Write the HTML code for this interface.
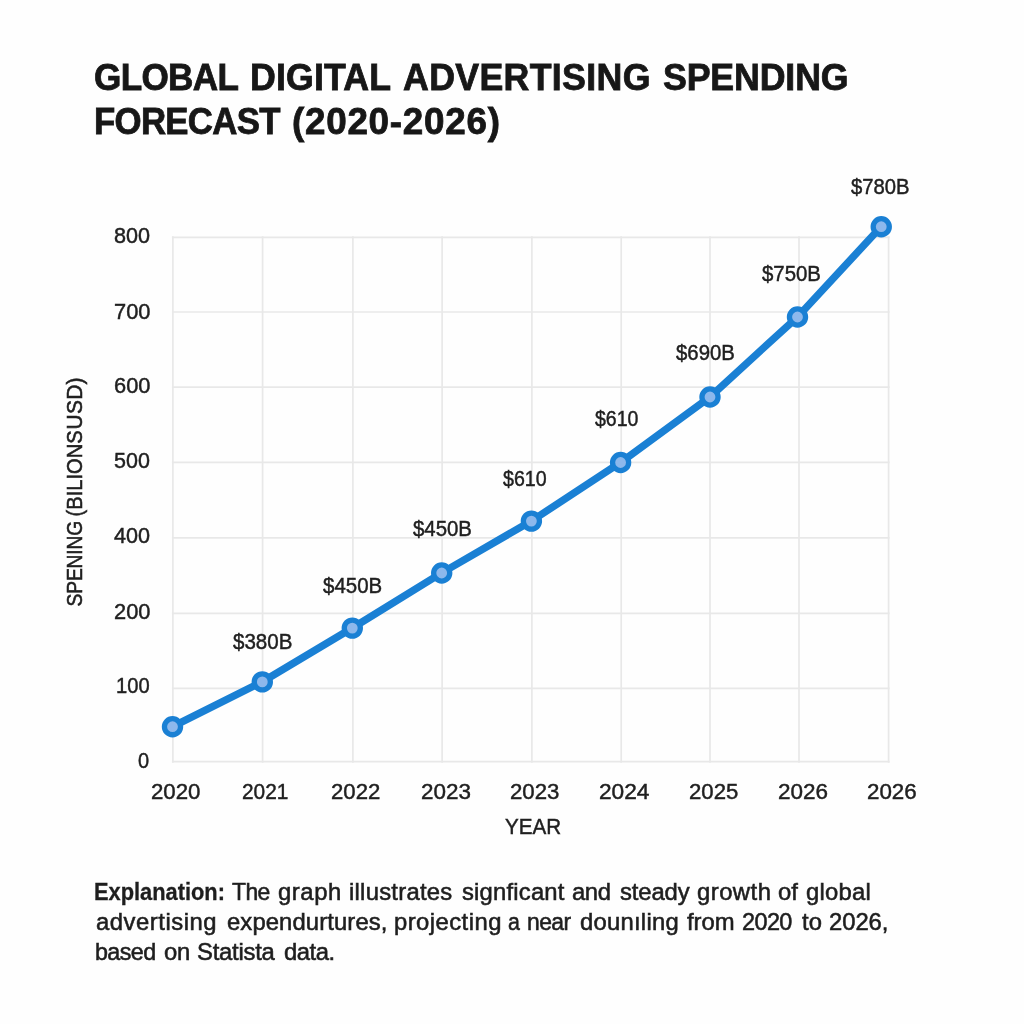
<!DOCTYPE html>
<html lang="en">
<head>
<meta charset="utf-8">
<title>Global Digital Advertising Spending Forecast (2020-2026)</title>
<style>
html,body{margin:0;padding:0;background:#fefefe;}
body{width:1024px;height:1024px;position:relative;overflow:hidden;font-family:"Liberation Sans",Arial,sans-serif;}
.t{position:absolute;white-space:pre;line-height:1;margin:0;padding:0;display:block;}
h1,p,figure,figcaption,div{margin:0;padding:0;font-size:inherit;}
p,figure{font-weight:400;}
svg{position:absolute;left:0;top:0;}
.grid line{stroke:#e8e8e8;stroke-width:1.7;}
.series polyline{fill:none;stroke:#1a80d4;stroke-width:7.4;stroke-linejoin:round;stroke-linecap:round;}
.series circle{fill:#8db8ec;stroke:#1a80d4;stroke-width:5.3;}
</style>
</head>
<body>
<h1>
<span class="t" style="left:93.85px;top:59.08px;font-size:37px;color:#171717;letter-spacing:-0.740px;-webkit-text-stroke:0.8px #171717;transform-origin:0 31.32px;transform:scaleX(0.9503)">GLOBAL</span>
<span class="t" style="left:249.97px;top:59.08px;font-size:37px;color:#171717;letter-spacing:0.141px;-webkit-text-stroke:0.8px #171717;transform-origin:0 31.32px;transform:scaleX(0.9660)">DIGITAL</span>
<span class="t" style="left:402.50px;top:59.08px;font-size:37px;color:#171717;letter-spacing:0.328px;-webkit-text-stroke:0.8px #171717;transform-origin:0 31.32px;transform:scaleX(0.9660)">ADVERTISING</span>
<span class="t" style="left:662.63px;top:59.08px;font-size:37px;color:#171717;letter-spacing:-0.162px;-webkit-text-stroke:0.8px #171717;transform-origin:0 31.32px;transform:scaleX(0.9660)">SPENDING</span>
<span class="t" style="left:93.72px;top:102.88px;font-size:37px;color:#171717;letter-spacing:-0.740px;-webkit-text-stroke:0.8px #171717;transform-origin:0 31.32px;transform:scaleX(0.9404)">FORECAST</span>
<span class="t" style="left:291.81px;top:102.88px;font-size:37px;color:#171717;letter-spacing:0.740px;-webkit-text-stroke:0.8px #171717;transform-origin:0 31.32px;transform:scaleX(0.9949)">(2020-2026)</span>
</h1>
<figure>
<svg width="1024" height="1024" viewBox="0 0 1024 1024">
<g class="grid">
<line x1="172.9" y1="236.3" x2="172.9" y2="762.7"/><line x1="262.6" y1="236.3" x2="262.6" y2="762.7"/><line x1="352.9" y1="236.3" x2="352.9" y2="762.7"/><line x1="442.1" y1="236.3" x2="442.1" y2="762.7"/><line x1="531.9" y1="236.3" x2="531.9" y2="762.7"/><line x1="621.2" y1="236.3" x2="621.2" y2="762.7"/><line x1="710.0" y1="236.3" x2="710.0" y2="762.7"/><line x1="799.0" y1="236.3" x2="799.0" y2="762.7"/><line x1="888.6" y1="236.3" x2="888.6" y2="762.7"/><line x1="171.9" y1="237.3" x2="889.6" y2="237.3"/><line x1="171.9" y1="312.0" x2="889.6" y2="312.0"/><line x1="171.9" y1="387.1" x2="889.6" y2="387.1"/><line x1="171.9" y1="462.4" x2="889.6" y2="462.4"/><line x1="171.9" y1="537.9" x2="889.6" y2="537.9"/><line x1="171.9" y1="613.4" x2="889.6" y2="613.4"/><line x1="171.9" y1="688.4" x2="889.6" y2="688.4"/><line x1="171.9" y1="761.7" x2="889.6" y2="761.7"/>
</g>
<g class="series">
<polyline points="172.5,726.60 262.3,681.80 352.3,628.00 441.7,572.90 531.4,521.00 620.6,462.40 710.0,396.90 797.5,316.90 881.25,226.60"/>
<circle cx="172.5" cy="726.7" r="8.05"/><circle cx="262.3" cy="681.9" r="8.05"/><circle cx="352.3" cy="628.1" r="8.05"/><circle cx="441.7" cy="573.0" r="8.05"/><circle cx="531.4" cy="521.1" r="8.05"/><circle cx="620.6" cy="462.5" r="8.05"/><circle cx="710.0" cy="397.0" r="8.05"/><circle cx="797.5" cy="317.0" r="8.05"/><circle cx="881.25" cy="226.7" r="8.05"/>
</g>
</svg>
<div class="yaxis">
<span class="t" style="left:82.00px;top:588.15px;font-size:21.8px;color:#202020;letter-spacing:-0.218px;-webkit-text-stroke:0.55px #202020;transform-origin:0 18.45px;transform:rotate(-90deg) scaleX(0.8848)">SPENING</span>
<span class="t" style="left:82.00px;top:498.27px;font-size:21.8px;color:#202020;letter-spacing:0.000px;-webkit-text-stroke:0.55px #202020;transform-origin:0 18.45px;transform:rotate(-90deg) scaleX(0.9223)">(BILIONS</span><span class="t" style="left:82.00px;top:410.91px;font-size:21.8px;color:#202020;letter-spacing:0.218px;-webkit-text-stroke:0.55px #202020;transform-origin:0 18.45px;transform:rotate(-90deg) scaleX(0.9657)">USD)</span>
<span class="t" style="left:114.20px;top:225.13px;font-size:22.0px;color:#202020;letter-spacing:0.000px;-webkit-text-stroke:0.45px #202020;transform-origin:0 18.62px;transform:scaleX(0.9816)">800</span>
<span class="t" style="left:113.81px;top:301.13px;font-size:22.0px;color:#202020;letter-spacing:-0.000px;-webkit-text-stroke:0.45px #202020;transform-origin:0 18.62px;transform:scaleX(0.9924)">700</span>
<span class="t" style="left:113.81px;top:375.23px;font-size:22.0px;color:#202020;letter-spacing:-0.000px;-webkit-text-stroke:0.45px #202020;transform-origin:0 18.62px;transform:scaleX(0.9924)">600</span>
<span class="t" style="left:114.40px;top:450.13px;font-size:22.0px;color:#202020;letter-spacing:-0.000px;-webkit-text-stroke:0.45px #202020;transform-origin:0 18.62px;transform:scaleX(0.9761)">500</span>
<span class="t" style="left:114.20px;top:525.03px;font-size:22.0px;color:#202020;letter-spacing:0.000px;-webkit-text-stroke:0.45px #202020;transform-origin:0 18.62px;transform:scaleX(0.9816)">400</span>
<span class="t" style="left:113.81px;top:600.63px;font-size:22.0px;color:#202020;letter-spacing:-0.000px;-webkit-text-stroke:0.45px #202020;transform-origin:0 18.62px;transform:scaleX(0.9924)">200</span>
<span class="t" style="left:115.58px;top:674.93px;font-size:22.0px;color:#202020;letter-spacing:-0.000px;-webkit-text-stroke:0.45px #202020;transform-origin:0 18.62px;transform:scaleX(0.9162)">100</span>
<span class="t" style="left:138.10px;top:749.83px;font-size:22.0px;color:#202020;letter-spacing:0.000px;-webkit-text-stroke:0.45px #202020;transform-origin:0 18.62px;transform:scaleX(0.9083)">0</span>
</div>
<div class="xaxis">
<span class="t" style="left:151.01px;top:781.15px;font-size:22.5px;color:#202020;letter-spacing:0.000px;-webkit-text-stroke:0.45px #202020;transform-origin:0 19.05px;transform:scaleX(0.9889)">2020</span>
<span class="t" style="left:242.07px;top:781.15px;font-size:22.5px;color:#202020;letter-spacing:-0.000px;-webkit-text-stroke:0.45px #202020;transform-origin:0 19.05px;transform:scaleX(0.9271)">2021</span>
<span class="t" style="left:330.92px;top:781.15px;font-size:22.5px;color:#202020;letter-spacing:-0.000px;-webkit-text-stroke:0.45px #202020;transform-origin:0 19.05px;transform:scaleX(0.9847)">2022</span>
<span class="t" style="left:420.90px;top:781.15px;font-size:22.5px;color:#202020;letter-spacing:-0.000px;-webkit-text-stroke:0.45px #202020;transform-origin:0 19.05px;transform:scaleX(0.9971)">2023</span>
<span class="t" style="left:509.91px;top:781.15px;font-size:22.5px;color:#202020;letter-spacing:-0.000px;-webkit-text-stroke:0.45px #202020;transform-origin:0 19.05px;transform:scaleX(0.9868)">2023</span>
<span class="t" style="left:599.39px;top:781.15px;font-size:22.5px;color:#202020;letter-spacing:-0.000px;-webkit-text-stroke:0.45px #202020;transform-origin:0 19.05px;transform:scaleX(1.0074)">2024</span>
<span class="t" style="left:688.72px;top:781.15px;font-size:22.5px;color:#202020;letter-spacing:-0.000px;-webkit-text-stroke:0.45px #202020;transform-origin:0 19.05px;transform:scaleX(0.9847)">2025</span>
<span class="t" style="left:778.40px;top:781.15px;font-size:22.5px;color:#202020;letter-spacing:-0.000px;-webkit-text-stroke:0.45px #202020;transform-origin:0 19.05px;transform:scaleX(0.9992)">2026</span>
<span class="t" style="left:867.31px;top:781.15px;font-size:22.5px;color:#202020;letter-spacing:-0.000px;-webkit-text-stroke:0.45px #202020;transform-origin:0 19.05px;transform:scaleX(0.9930)">2026</span>
<span class="t" style="left:504.70px;top:816.50px;font-size:21.5px;color:#202020;letter-spacing:0.000px;-webkit-text-stroke:0.45px #202020;transform-origin:0 18.20px;transform:scaleX(0.9583)">YEAR</span>
</div>
<div class="datalabels">
<span class="t" style="left:232.60px;top:631.58px;font-size:21.4px;color:#202020;letter-spacing:-0.000px;-webkit-text-stroke:0.45px #202020;transform-origin:0 18.12px;transform:scaleX(0.9596)">$380B</span>
<span class="t" style="left:323.10px;top:575.58px;font-size:21.4px;color:#202020;letter-spacing:-0.000px;-webkit-text-stroke:0.45px #202020;transform-origin:0 18.12px;transform:scaleX(0.9564)">$450B</span>
<span class="t" style="left:413.30px;top:519.08px;font-size:21.4px;color:#202020;letter-spacing:-0.000px;-webkit-text-stroke:0.45px #202020;transform-origin:0 18.12px;transform:scaleX(0.9531)">$450B</span>
<span class="t" style="left:502.70px;top:468.98px;font-size:21.4px;color:#202020;letter-spacing:-0.000px;-webkit-text-stroke:0.45px #202020;transform-origin:0 18.12px;transform:scaleX(0.9163)">$610</span>
<span class="t" style="left:594.50px;top:408.88px;font-size:21.4px;color:#202020;letter-spacing:-0.000px;-webkit-text-stroke:0.45px #202020;transform-origin:0 18.12px;transform:scaleX(0.9122)">$610</span>
<span class="t" style="left:676.40px;top:342.78px;font-size:21.4px;color:#202020;letter-spacing:-0.000px;-webkit-text-stroke:0.45px #202020;transform-origin:0 18.12px;transform:scaleX(0.9515)">$690B</span>
<span class="t" style="left:762.30px;top:263.78px;font-size:21.4px;color:#202020;letter-spacing:-0.000px;-webkit-text-stroke:0.45px #202020;transform-origin:0 18.12px;transform:scaleX(0.9531)">$750B</span>
<span class="t" style="left:851.10px;top:177.18px;font-size:21.4px;color:#202020;letter-spacing:-0.000px;-webkit-text-stroke:0.45px #202020;transform-origin:0 18.12px;transform:scaleX(0.9466)">$780B</span>
</div>
</figure>
<p>
<b class="t" style="left:94.28px;top:880.64px;font-size:23.7px;color:#1e1e1e;letter-spacing:0.000px;-webkit-text-stroke:0.3px #1e1e1e;transform-origin:0 20.06px;transform:scaleX(0.9214)">Explanation:</b>
<span class="t" style="left:232.20px;top:880.64px;font-size:23.7px;color:#1e1e1e;letter-spacing:-0.593px;-webkit-text-stroke:0.55px #1e1e1e;transform-origin:0 20.06px;transform:scaleX(0.9681)">The</span>
<span class="t" style="left:278.29px;top:880.64px;font-size:23.7px;color:#1e1e1e;letter-spacing:0.589px;-webkit-text-stroke:0.55px #1e1e1e;transform-origin:0 20.06px;transform:scaleX(1.0055)">graph</span>
<span class="t" style="left:348.69px;top:880.64px;font-size:23.7px;color:#1e1e1e;letter-spacing:0.264px;-webkit-text-stroke:0.55px #1e1e1e;transform-origin:0 20.06px;transform:scaleX(1.0055)">illustrates</span>
<span class="t" style="left:461.80px;top:880.64px;font-size:23.7px;color:#1e1e1e;letter-spacing:0.194px;-webkit-text-stroke:0.55px #1e1e1e;transform-origin:0 20.06px;transform:scaleX(1.0055)">signficant</span>
<span class="t" style="left:572.19px;top:880.64px;font-size:23.7px;color:#1e1e1e;letter-spacing:-0.424px;-webkit-text-stroke:0.55px #1e1e1e;transform-origin:0 20.06px;transform:scaleX(1.0055)">and</span>
<span class="t" style="left:619.50px;top:880.64px;font-size:23.7px;color:#1e1e1e;letter-spacing:-0.126px;-webkit-text-stroke:0.55px #1e1e1e;transform-origin:0 20.06px;transform:scaleX(1.0055)">steady</span>
<span class="t" style="left:697.19px;top:880.64px;font-size:23.7px;color:#1e1e1e;letter-spacing:0.477px;-webkit-text-stroke:0.55px #1e1e1e;transform-origin:0 20.06px;transform:scaleX(1.0055)">growth</span>
<span class="t" style="left:778.29px;top:880.64px;font-size:23.7px;color:#1e1e1e;letter-spacing:0.120px;-webkit-text-stroke:0.55px #1e1e1e;transform-origin:0 20.06px;transform:scaleX(1.0055)">of</span>
<span class="t" style="left:806.19px;top:880.64px;font-size:23.7px;color:#1e1e1e;letter-spacing:0.220px;-webkit-text-stroke:0.55px #1e1e1e;transform-origin:0 20.06px;transform:scaleX(1.0055)">global</span>
<span class="t" style="left:95.99px;top:911.24px;font-size:23.7px;color:#1e1e1e;letter-spacing:0.537px;-webkit-text-stroke:0.55px #1e1e1e;transform-origin:0 20.06px;transform:scaleX(1.0055)">advertising</span>
<span class="t" style="left:226.99px;top:911.24px;font-size:23.7px;color:#1e1e1e;letter-spacing:0.115px;-webkit-text-stroke:0.55px #1e1e1e;transform-origin:0 20.06px;transform:scaleX(1.0055)">expendurtures,</span>
<span class="t" style="left:393.59px;top:911.24px;font-size:23.7px;color:#1e1e1e;letter-spacing:0.454px;-webkit-text-stroke:0.55px #1e1e1e;transform-origin:0 20.06px;transform:scaleX(1.0055)">projecting</span>
<span class="t" style="left:508.00px;top:911.24px;font-size:23.7px;color:#1e1e1e;letter-spacing:0.000px;-webkit-text-stroke:0.55px #1e1e1e;transform-origin:0 20.06px;transform:scaleX(0.9000)">a</span>
<span class="t" style="left:526.83px;top:911.24px;font-size:23.7px;color:#1e1e1e;letter-spacing:-0.593px;-webkit-text-stroke:0.55px #1e1e1e;transform-origin:0 20.06px;transform:scaleX(0.9655)">near</span>
<span class="t" style="left:580.19px;top:911.24px;font-size:23.7px;color:#1e1e1e;letter-spacing:0.249px;-webkit-text-stroke:0.55px #1e1e1e;transform-origin:0 20.06px;transform:scaleX(1.0055)">dounıling</span>
<span class="t" style="left:686.80px;top:911.24px;font-size:23.7px;color:#1e1e1e;letter-spacing:0.000px;-webkit-text-stroke:0.55px #1e1e1e;transform-origin:0 20.06px;transform:scaleX(1.0055)">from</span>
<span class="t" style="left:742.11px;top:911.24px;font-size:23.7px;color:#1e1e1e;letter-spacing:-0.593px;-webkit-text-stroke:0.55px #1e1e1e;transform-origin:0 20.06px;transform:scaleX(0.9891)">2020</span>
<span class="t" style="left:801.70px;top:911.24px;font-size:23.7px;color:#1e1e1e;letter-spacing:0.210px;-webkit-text-stroke:0.55px #1e1e1e;transform-origin:0 20.06px;transform:scaleX(1.0055)">to</span>
<span class="t" style="left:829.39px;top:911.24px;font-size:23.7px;color:#1e1e1e;letter-spacing:-0.052px;-webkit-text-stroke:0.55px #1e1e1e;transform-origin:0 20.06px;transform:scaleX(1.0055)">2026,</span>
<span class="t" style="left:94.52px;top:941.24px;font-size:23.7px;color:#1e1e1e;letter-spacing:-0.593px;-webkit-text-stroke:0.55px #1e1e1e;transform-origin:0 20.06px;transform:scaleX(0.9834)">based</span>
<span class="t" style="left:163.99px;top:941.24px;font-size:23.7px;color:#1e1e1e;letter-spacing:-0.305px;-webkit-text-stroke:0.55px #1e1e1e;transform-origin:0 20.06px;transform:scaleX(1.0055)">on</span>
<span class="t" style="left:197.39px;top:941.24px;font-size:23.7px;color:#1e1e1e;letter-spacing:-0.235px;-webkit-text-stroke:0.55px #1e1e1e;transform-origin:0 20.06px;transform:scaleX(1.0055)">Statista</span>
<span class="t" style="left:283.99px;top:941.24px;font-size:23.7px;color:#1e1e1e;letter-spacing:-0.442px;-webkit-text-stroke:0.55px #1e1e1e;transform-origin:0 20.06px;transform:scaleX(1.0055)">data.</span>
</p>
</body>
</html>
